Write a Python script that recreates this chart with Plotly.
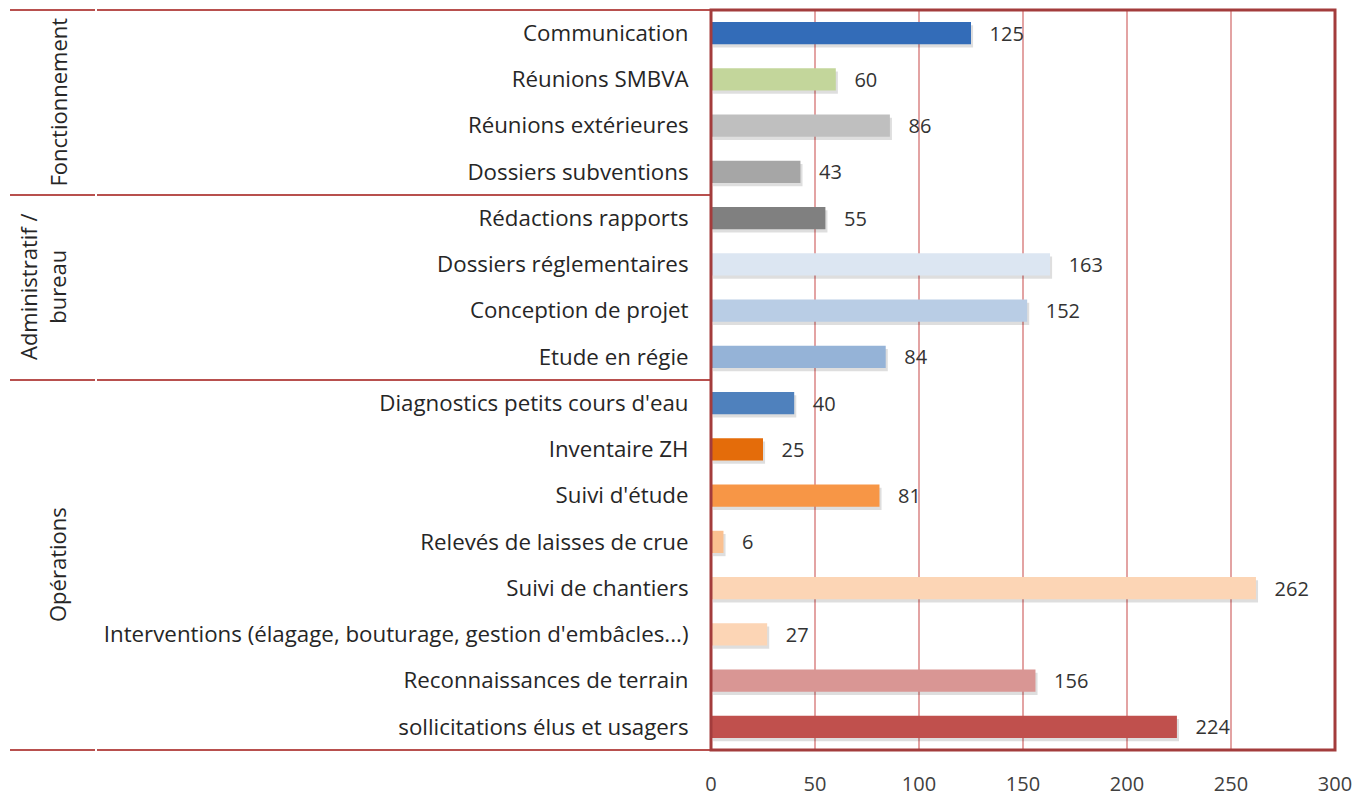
import plotly.graph_objects as go

categories = [
    "Communication", "Réunions SMBVA", "Réunions extérieures", "Dossiers subventions",
    "Rédactions rapports", "Dossiers réglementaires", "Conception de projet", "Etude en régie",
    "Diagnostics petits cours d'eau", "Inventaire ZH", "Suivi d'étude", "Relevés de laisses de crue",
    "Suivi de chantiers", "Interventions (élagage, bouturage, gestion d'embâcles...)",
    "Reconnaissances de terrain", "sollicitations élus et usagers",
]
values = [125, 60, 86, 43, 55, 163, 152, 84, 40, 25, 81, 6, 262, 27, 156, 224]
colors = [
    "#336CB8", "#C3D69B", "#BFBFBF", "#A6A6A6", "#808080", "#DCE6F2", "#B9CDE5", "#95B3D7",
    "#4F81BD", "#E46C0A", "#F79646", "#FAC090", "#FCD5B5", "#FCD5B5", "#D99694", "#C0504D",
]
groups = ["Fonctionnement", "Administratif /<br>bureau", "Opérations"]
group_sizes = [4, 4, 8]
xticks = [0, 50, 100, 150, 200, 250, 300]

FONT = "Open Sans"
# page body has an 8px margin
W, H = 1355, 791
ML, MR, MT, MB = 703, 28, 2, 42
PW = W - ML - MR

fig = go.Figure()
# soft drop shadow under bars
fig.add_trace(go.Bar(
    y=categories, x=values, orientation="h", base=1.0,
    marker=dict(color="rgba(0,0,0,0.13)", line=dict(width=0)),
    width=0.48, offset=-0.24 + 0.07, hoverinfo="skip",
))
fig.add_trace(go.Bar(
    y=categories, x=values, orientation="h",
    marker=dict(color=colors, line=dict(width=0)),
    width=0.48, offset=-0.24,
    text=[f"   {v}" for v in values], textposition="outside", constraintext="none",
    textfont=dict(family=FONT, size=20, color="#333333"),
    cliponaxis=False, hoverinfo="x+y",
))

n = len(categories)
shapes = []
line_col = "#B8504E"
bounds = [0]
for s in group_sizes:
    bounds.append(bounds[-1] + s)
xa = (2 - ML) / PW
xb = (87 - ML) / PW
xc = (89 - ML) / PW
for b in bounds:
    yp = 1 - b / n
    shapes.append(dict(type="line", xref="paper", yref="paper", x0=xa, x1=xb,
                       y0=yp, y1=yp, line=dict(color=line_col, width=2)))
    shapes.append(dict(type="line", xref="paper", yref="paper", x0=xc, x1=0,
                       y0=yp, y1=yp, line=dict(color=line_col, width=2)))
shapes.append(dict(type="rect", xref="paper", yref="paper", x0=0, x1=1, y0=0, y1=1,
                   line=dict(color="#A33C3C", width=3), layer="above"))

annotations = []
xg = (66 - ML) / PW
for i, g in enumerate(groups):
    mid = (bounds[i] + bounds[i + 1]) / 2
    annotations.append(dict(xref="paper", yref="paper", x=xg, y=1 - mid / n, text=g,
                            showarrow=False, textangle=-90, xanchor="right", yanchor="middle",
                            font=dict(family=FONT, size=22, color="#262626")))

fig.update_layout(
    width=W, height=H, margin=dict(l=ML, r=MR, t=MT, b=MB),
    paper_bgcolor="white", plot_bgcolor="white",
    showlegend=False, shapes=shapes, annotations=annotations,
    font=dict(family=FONT, size=20, color="#262626"),
    barmode="overlay",
)
fig.update_xaxes(range=[0, 300], tickvals=xticks, showgrid=True, gridcolor="#E3A3A3", gridwidth=1.5,
                 zeroline=False, ticks="outside", ticklen=16, tickcolor="rgba(0,0,0,0)",
                 tickfont=dict(family=FONT, size=20, color="#404040"), showline=False, fixedrange=True)
fig.update_yaxes(autorange=False, range=[n - 0.5, -0.5], type="category", showgrid=False,
                 ticks="outside", ticklen=17, tickcolor="rgba(0,0,0,0)",
                 tickfont=dict(family=FONT, size=22.3, color="#262626"), showline=False, fixedrange=True)

fig.write_html("out.html")
